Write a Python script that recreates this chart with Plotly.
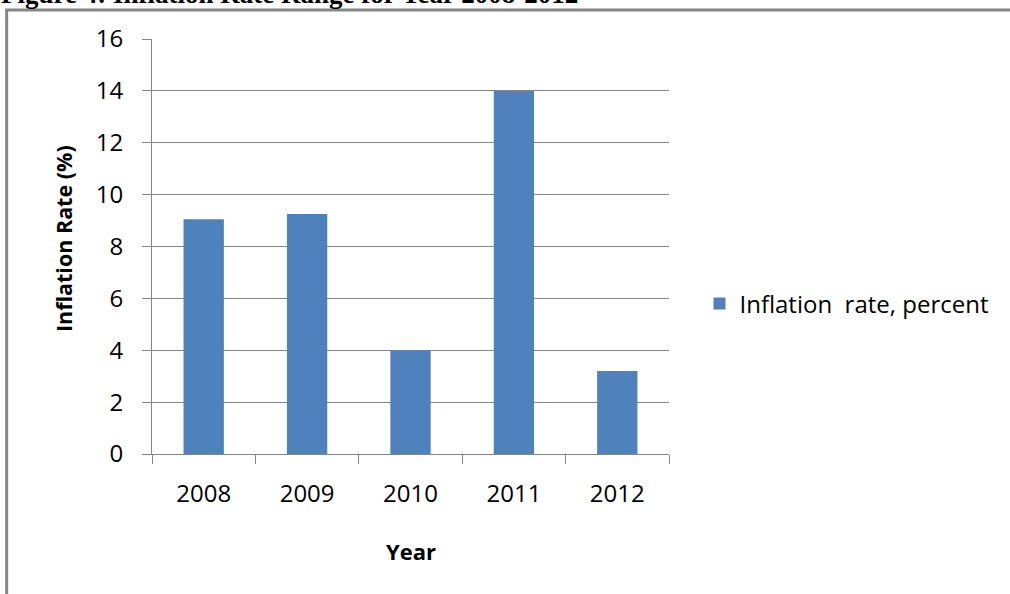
import plotly.graph_objects as go

years = ["2008", "2009", "2010", "2011", "2012"]
inflation = [9.05, 9.25, 4.0, 14.0, 3.2]
series_name = "Inflation\u00a0 rate, percent"
title_text = "Figure 4: Inflation Rate Range for Year 2008-2012"
y_title = "Inflation Rate (%)"
x_title = "Year"

W, H = 1010, 594
L, R, T, B = 152, 340.5, 39, 140
pw, ph = W - L - R, H - T - B

def px_x(x):
    return (x - L) / pw

def px_y(y):
    return (H - B - y) / ph

FONT = "Open Sans"
GRAY = "#868686"

fig = go.Figure()
fig.add_trace(go.Bar(
    x=years, y=inflation, name=series_name,
    marker=dict(color="#4F81BD", line=dict(width=0)),
    showlegend=True,
))

fig.update_layout(
    width=W, height=H,
    margin=dict(l=L, r=R, t=T, b=B, pad=0),
    paper_bgcolor="white", plot_bgcolor="white",
    bargap=0.61,
    font=dict(family=FONT, color="#000000"),
    showlegend=True,
    legend=dict(
        x=px_x(700), y=px_y(304), xanchor="left", yanchor="middle",
        font=dict(family=FONT, size=24, color="#000"),
        bgcolor="rgba(0,0,0,0)",
    ),
    xaxis=dict(
        showline=True, linecolor=GRAY, linewidth=1,
        ticks="outside", ticklen=9, tickcolor=GRAY, tickson="boundaries",
        tickfont=dict(family=FONT, size=24, color="#000"),
        ticklabelstandoff=18,
        showgrid=False,
    ),
    yaxis=dict(
        range=[0, 16], dtick=2,
        showline=True, linecolor=GRAY, linewidth=1,
        ticks="outside", ticklen=9, tickcolor=GRAY,
        showgrid=True, gridcolor=GRAY, gridwidth=1,
        zeroline=False,
        tickfont=dict(family=FONT, size=24, color="#000"),
        ticklabelstandoff=14,
    ),
)

# axis titles
fig.add_annotation(
    text="<b>" + y_title + "</b>", xref="paper", yref="paper",
    x=px_x(63), y=px_y(239), xanchor="center", yanchor="middle", textangle=-90,
    showarrow=False, font=dict(family=FONT, size=21.5, color="#000"),
)
fig.add_annotation(
    text="<b>" + x_title + "</b>", xref="paper", yref="paper",
    x=px_x(411), y=px_y(551), xanchor="center", yanchor="middle",
    showarrow=False, font=dict(family=FONT, size=22, color="#000"),
)

# outer frame (left and top edges visible)
fig.add_shape(type="line", xref="paper", yref="paper",
              x0=px_x(6.5), x1=px_x(6.5), y0=px_y(10), y1=px_y(600),
              line=dict(color=GRAY, width=3))
fig.add_shape(type="line", xref="paper", yref="paper",
              x0=px_x(5), x1=px_x(1012), y0=px_y(10), y1=px_y(10),
              line=dict(color=GRAY, width=3))

# cropped title at the very top
fig.add_annotation(
    text="<b>" + title_text + "</b>", xref="paper", yref="paper",
    x=px_x(-1), y=px_y(-6.5), xanchor="left", yanchor="middle",
    showarrow=False, font=dict(family="Liberation Serif", size=27, color="#000"),
)

fig.write_html(
    "out.html",
    config={"displayModeBar": False},
    post_script="document.body.style.margin='0px';document.body.style.overflow='hidden';",
)
